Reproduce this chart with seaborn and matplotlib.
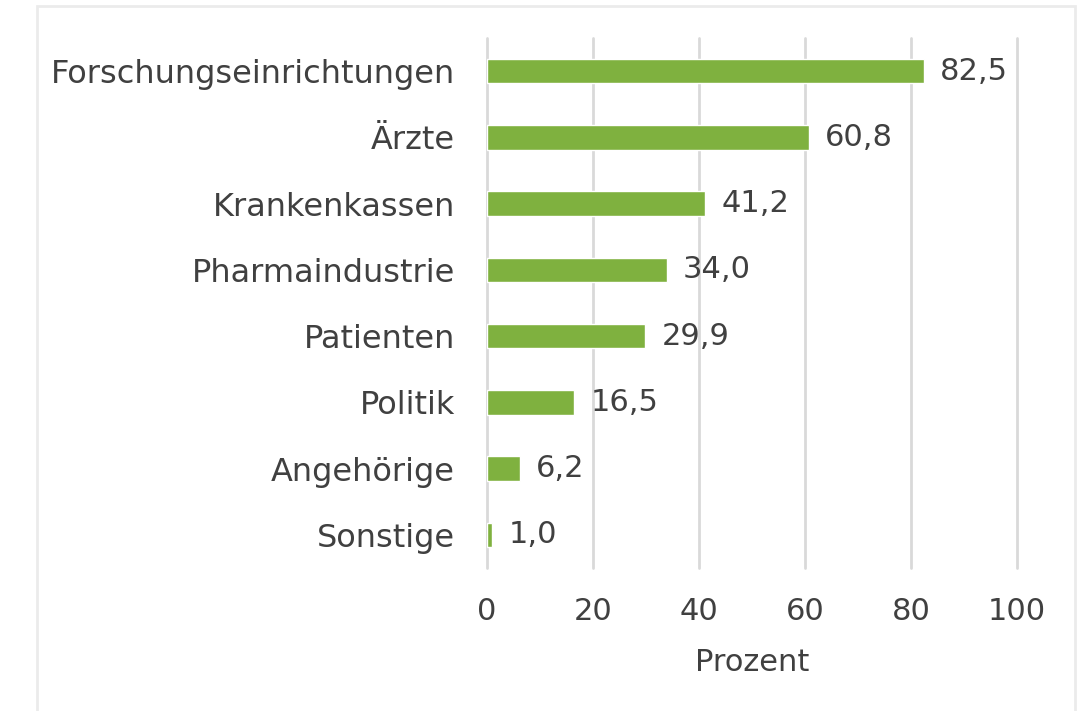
import matplotlib
matplotlib.use("Agg")
import matplotlib.pyplot as plt
import seaborn as sns
import pandas as pd
from matplotlib.patches import Rectangle

# Daten
kategorien = ["Forschungseinrichtungen", "Ärzte", "Krankenkassen", "Pharmaindustrie",
              "Patienten", "Politik", "Angehörige", "Sonstige"]
prozent = [82.5, 60.8, 41.2, 34.0, 29.9, 16.5, 6.2, 1.0]
x_ticks = [0, 20, 40, 60, 80, 100]

df = pd.DataFrame({"kategorie": kategorien, "prozent": prozent})

sns.set_style("white")
plt.rcParams["font.family"] = ["DejaVu Sans"]

textfarbe = "#404040"
gruen = "#7FB13F"
fs = 22

fig = plt.figure(figsize=(10.81, 7.11), dpi=100)
ax = fig.add_axes([487 / 1081, 1 - 568 / 711, 530 / 1081, 530 / 711])

sns.barplot(data=df, x="prozent", y="kategorie", color=gruen, width=0.37,
            saturation=1, ax=ax, order=kategorien)

ax.set_xlim(0, 100)
ax.set_ylim(len(kategorien) - 0.5, -0.5)
ax.set_xticks(x_ticks)
ax.xaxis.grid(True, color="#D9D9D9", linewidth=2)
for gl in ax.get_xgridlines():
    gl.set_clip_on(False)
ax.set_axisbelow(True)
for s in ax.spines.values():
    s.set_visible(False)

ax.tick_params(axis="x", length=0, labelsize=fs, colors=textfarbe, pad=21)
ax.tick_params(axis="y", length=0, labelsize=23, colors=textfarbe, pad=23)
ax.set_ylabel("")
ax.set_xlabel("Prozent", fontsize=fs, color=textfarbe, labelpad=16)

# Werte beschriften
for i, v in enumerate(prozent):
    ax.text(v + 3, i, f"{v:.1f}".replace(".", ","), va="center", ha="left",
            fontsize=fs, color=textfarbe)

# heller Rahmen um das Diagramm
fig.patches.append(Rectangle((37 / 1081, -0.05), 1038 / 1081, 1 - 6 / 711 + 0.05,
                             transform=fig.transFigure, fill=False,
                             edgecolor="#EBEBEB", linewidth=2))

fig.savefig("out.png", dpi=100)
